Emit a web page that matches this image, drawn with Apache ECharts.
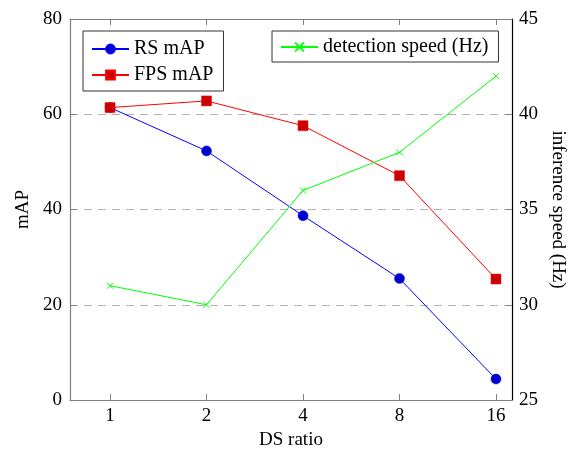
<!DOCTYPE html>
<html>
<head>
<meta charset="utf-8">
<script src="https://cdn.jsdelivr.net/npm/echarts@6/dist/echarts.min.js"></script>
<style>
  html, body { margin: 0; padding: 0; background: #fff; }
  #main { width: 570px; height: 451px; }
</style>
</head>
<body>
<div id="main"></div>
<script>
// data
var dsRatio = ['1', '2', '4', '8', '16'];
var rsMap = [61.4, 52.3, 38.7, 25.5, 4.4];
var fpsMap = [61.4, 62.8, 57.6, 47.1, 25.4];
var detSpeed = [31, 30, 36, 38, 42];

var FONT = 'Liberation Serif';

function toPoints(arr) {
  return arr.map(function (v, i) { return [i, v]; });
}

var idx = dsRatio.map(function (d, i) { return i; });

var chart = echarts.init(document.getElementById('main'));

var xBase = {
  type: 'value',
  min: -0.415,
  max: 4.166,
  splitLine: { show: false },
  axisLine: { onZero: false, lineStyle: { color: '#808080', width: 1.2 } }
};

chart.setOption({
  animation: false,
  textStyle: { fontFamily: FONT },
  grid: { left: 70, right: 58, top: 19, bottom: 51, containLabel: false, outerBoundsMode: 'none' },
  legend: [
    {
      data: ['RS mAP', 'FPS mAP'],
      orient: 'vertical',
      left: 83, top: 31,
      padding: [8, 10, 6, 8],
      itemGap: 6,
      itemWidth: 37, itemHeight: 11,
      borderColor: '#333', borderWidth: 1,
      textStyle: { fontFamily: FONT, fontSize: 20, color: '#000' }
    },
    {
      data: ['detection speed (Hz)'],
      left: 272, top: 31,
      padding: [6, 10, 5, 8],
      itemWidth: 37, itemHeight: 11,
      borderColor: '#333', borderWidth: 1,
      textStyle: { fontFamily: FONT, fontSize: 20, color: '#000' }
    }
  ],
  xAxis: [
    Object.assign({}, xBase, {
      position: 'bottom',
      name: 'DS ratio',
      nameLocation: 'middle',
      nameGap: 28,
      nameTextStyle: { fontFamily: FONT, fontSize: 19, color: '#000' },
      axisTick: { show: true, inside: true, length: 6, customValues: idx, lineStyle: { color: '#808080' } },
      axisLabel: {
        customValues: idx,
        margin: 7,
        fontFamily: FONT, fontSize: 19, color: '#000',
        formatter: function (v) { return dsRatio[Math.round(v)]; }
      }
    }),
    Object.assign({}, xBase, {
      position: 'top',
      axisTick: { show: true, inside: true, length: 6, customValues: idx, lineStyle: { color: '#808080' } },
      axisLabel: { show: false }
    })
  ],
  yAxis: [
    {
      type: 'value',
      min: 0, max: 80, interval: 20,
      position: 'left',
      name: 'mAP',
      nameLocation: 'middle',
      nameGap: 36,
      nameRotate: 90,
      nameTextStyle: { fontFamily: FONT, fontSize: 19, color: '#000' },
      axisLine: { show: true, onZero: false, lineStyle: { color: '#808080', width: 1.2 } },
      axisTick: { show: true, inside: true, length: 6, lineStyle: { color: '#808080' } },
      axisLabel: { margin: 8, fontFamily: FONT, fontSize: 19, color: '#000' },
      splitLine: { show: true, lineStyle: { color: '#b0b0b0', type: [8, 6], width: 1.2 } }
    },
    {
      type: 'value',
      min: 25, max: 45, interval: 5,
      position: 'right',
      name: 'inference speed (Hz)',
      nameLocation: 'middle',
      nameGap: 35,
      nameRotate: -90,
      nameTextStyle: { fontFamily: FONT, fontSize: 19, color: '#000' },
      axisLine: { show: true, onZero: false, lineStyle: { color: '#000', width: 1.2 } },
      axisTick: { show: true, inside: true, length: 6, lineStyle: { color: '#808080' } },
      axisLabel: { margin: 7, fontFamily: FONT, fontSize: 19, color: '#000' },
      splitLine: { show: false }
    }
  ],
  series: [
    {
      name: 'RS mAP',
      type: 'line',
      yAxisIndex: 0,
      data: toPoints(rsMap),
      symbol: 'circle',
      symbolSize: 10,
      lineStyle: { color: '#0000ff', width: 1 },
      itemStyle: { color: '#0000cc', borderColor: '#0000ff', borderWidth: 0.5 }
    },
    {
      name: 'FPS mAP',
      type: 'line',
      yAxisIndex: 0,
      data: toPoints(fpsMap),
      symbol: 'rect',
      symbolSize: 10,
      lineStyle: { color: '#ff0000', width: 1 },
      itemStyle: { color: '#cc0000', borderColor: '#ff0000', borderWidth: 0.5 }
    },
    {
      name: 'detection speed (Hz)',
      type: 'line',
      yAxisIndex: 1,
      data: toPoints(detSpeed),
      symbol: 'path://M0,0L10,10M10,0L0,10',
      symbolSize: 6,
      lineStyle: { color: '#00ff00', width: 1 },
      itemStyle: { color: '#00ff00', borderColor: '#00ff00', borderWidth: 1 }
    }
  ]
});
</script>
</body>
</html>
